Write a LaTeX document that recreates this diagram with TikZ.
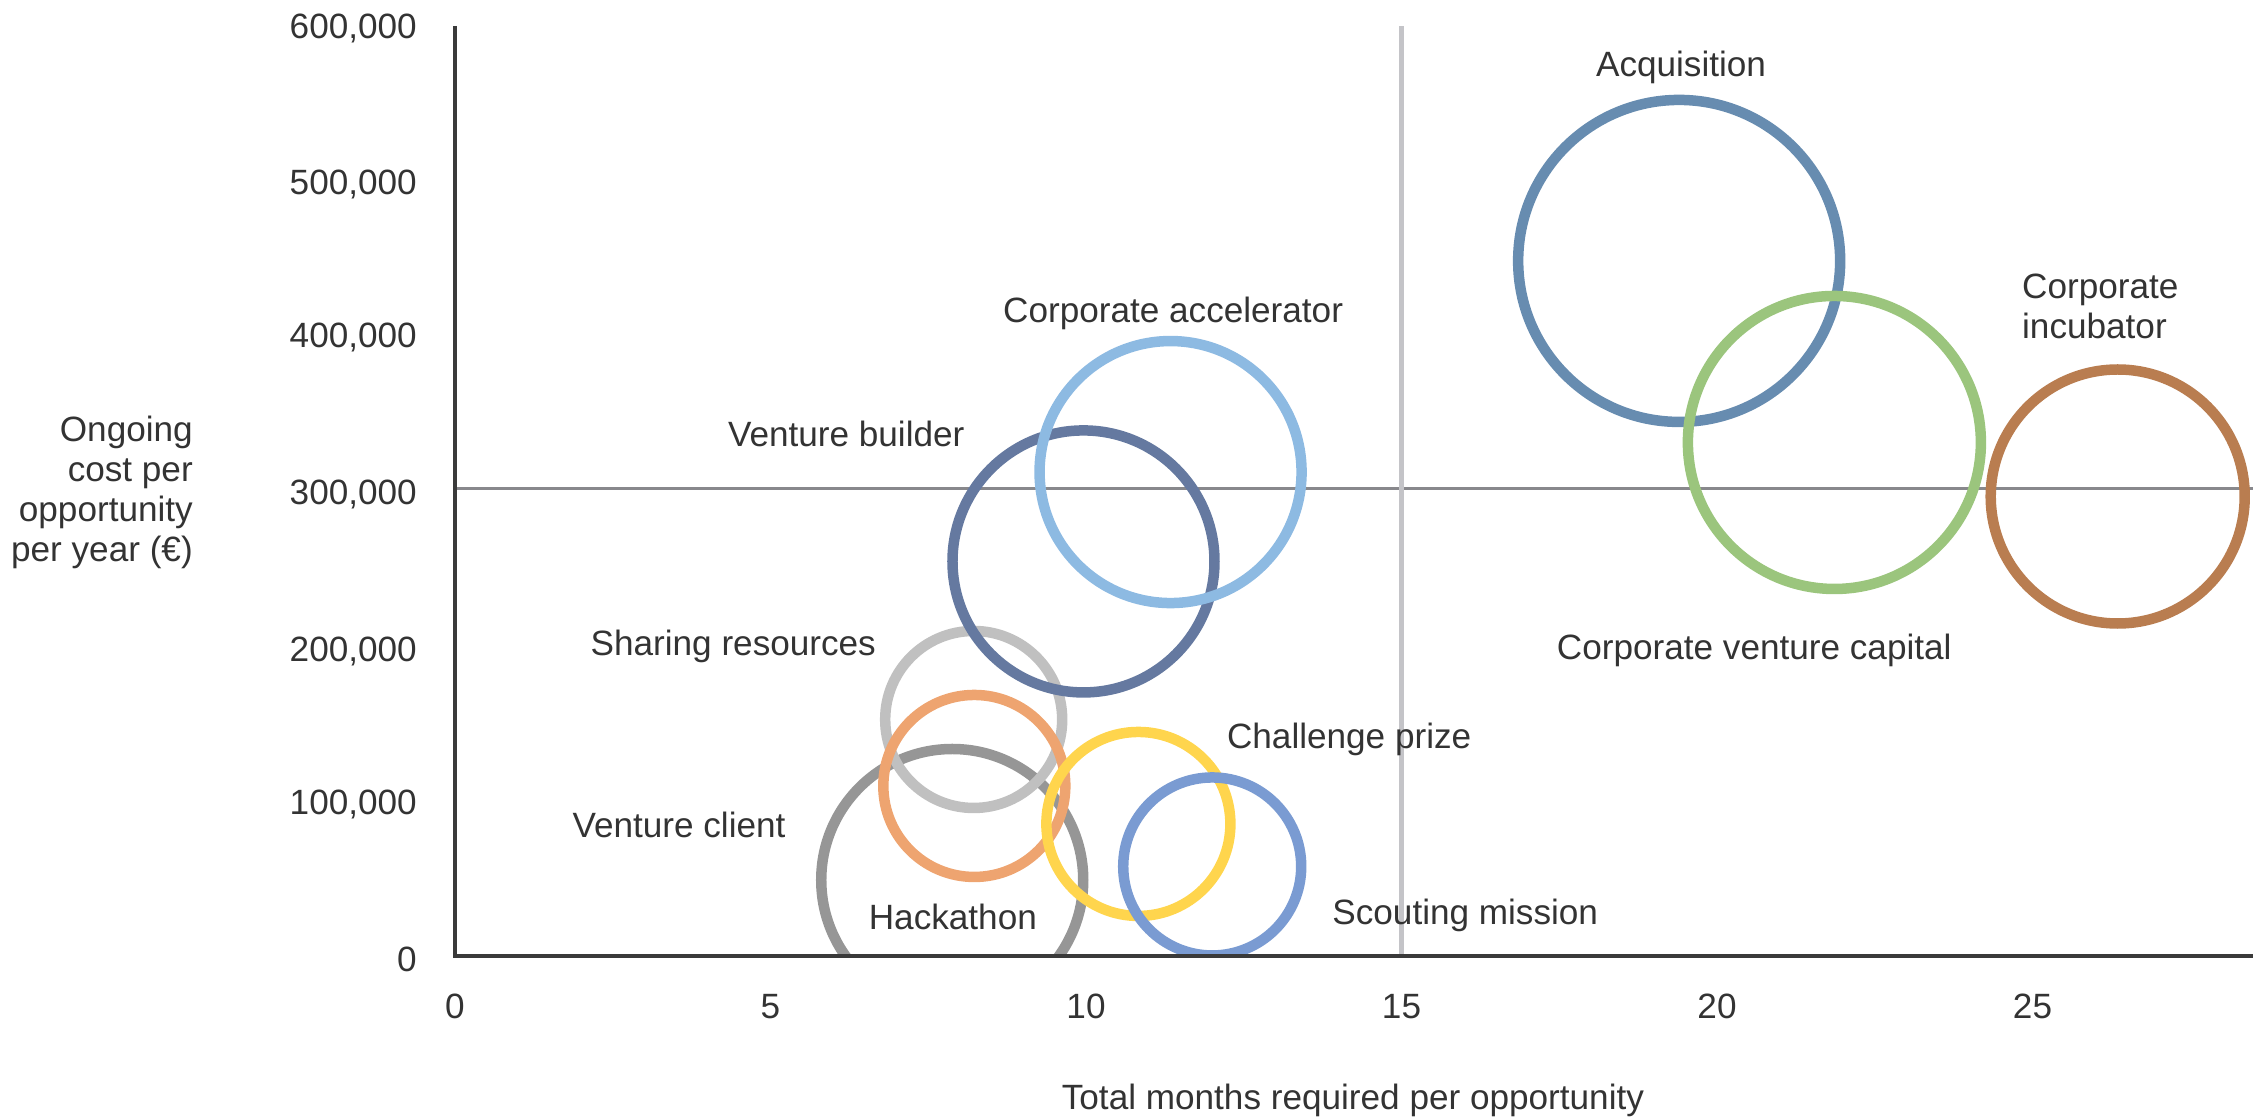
\documentclass[tikz,border=0pt]{standalone}
\usepackage{fontspec}
\setmainfont{Liberation Sans}
\usepackage{tikz}

\definecolor{txtgray}{HTML}{333333}
\definecolor{axisgray}{HTML}{3A3A3A}
\definecolor{refgray}{HTML}{88888C}
\definecolor{reflight}{HTML}{C4C4C8}
\definecolor{acqblue}{HTML}{678CB0}
\definecolor{cvcgreen}{HTML}{9BC57D}
\definecolor{incbrown}{HTML}{B97D50}
\definecolor{accblue}{HTML}{8DBAE2}
\definecolor{vbslate}{HTML}{6579A0}
\definecolor{srgray}{HTML}{C0C0C0}
\definecolor{vcorange}{HTML}{EEA470}
\definecolor{hkgray}{HTML}{969696}
\definecolor{cpyellow}{HTML}{FFD54D}
\definecolor{smblue}{HTML}{7A9BD2}

\begin{document}
\begin{tikzpicture}[x=1.262cm,y=3.114cm]
					\useasboundingbox (-7.2108,-1.0308) rectangle (28.494,6.1368);
					\tikzstyle{every node}=[font=\fontsize{20}{22.8}\selectfont, text=txtgray, inner sep=0pt];
					\tikzstyle{lbl}=[text height=0.51cm, text depth=0pt];
					\tikzstyle{bubble}=[line width=0.21cm];
					% reference lines
					\draw[line width=0.06cm, refgray] (0,3) -- (28.494,3);
					\draw[line width=0.11cm, reflight] (15,0) -- (15,5.97);
					% bubbles
					\begin{scope}
					\clip (0,0) rectangle (28.494,6.1368);
					\draw[bubble, hkgray] (7.88,0.485) circle[radius=2.62cm];
					\draw[bubble, srgray] (8.22,1.516) circle[radius=1.77cm];
					\draw[bubble, vcorange] (8.23,1.089) circle[radius=1.82cm];
					\draw[bubble, cpyellow] (10.83,0.845) circle[radius=1.84cm];
					\draw[bubble, smblue] (12.00,0.572) circle[radius=1.78cm];
					\draw[bubble, vbslate] (9.96,2.531) circle[radius=2.62cm];
					\draw[bubble, accblue] (11.34,3.105) circle[radius=2.62cm];
					\draw[bubble, acqblue] (19.40,4.461) circle[radius=3.22cm];
					\draw[bubble, cvcgreen] (21.86,3.295) circle[radius=2.93cm];
					\draw[bubble, incbrown] (26.35,2.948) circle[radius=2.54cm];
					\end{scope}
					% axes
					\draw[line width=0.08cm, axisgray] (0,5.97) -- (0,0) -- (28.494,0);
					% bubble labels
					\path (19.43,5.73) node[lbl] (acq) {Acquisition};
					\path (24.83,4.17) node[anchor=west, align=left] (inc) {Corporate\\incubator};
					\path (20.59,1.98) node[lbl] (cvc) {Corporate venture capital};
					\path (11.38,4.15) node[lbl] (acc) {Corporate accelerator};
					\path (6.20,3.35) node[lbl] (vb) {Venture builder};
					\path (4.41,2.01) node[lbl] (sr) {Sharing resources};
					\path (3.55,0.84) node[lbl] (vc) {Venture client};
					\path (7.89,0.25) node[lbl] (hk) {Hackathon};
					\path (14.17,1.41) node[lbl] (cp) {Challenge prize};
					\path (16.01,0.28) node[lbl] (sm) {Scouting mission};
					% y ticks
					\path (-0.6,5.97) node[lbl, anchor=east] (y6) {600,000};
					\path (-0.6,4.97) node[lbl, anchor=east] (y5) {500,000};
					\path (-0.6,3.99) node[lbl, anchor=east] (y4) {400,000};
					\path (-0.6,2.98) node[lbl, anchor=east] (y3) {300,000};
					\path (-0.6,1.97) node[lbl, anchor=east] (y2) {200,000};
					\path (-0.6,0.99) node[lbl, anchor=east] (y1) {100,000};
					\path (-0.6,-0.02) node[lbl, anchor=east] (y0) {0};
					% x ticks
					\path (0,-0.324) node[lbl] (x0) {0};
					\path (5,-0.324) node[lbl] (x1) {5};
					\path (10,-0.324) node[lbl] (x2) {10};
					\path (15,-0.324) node[lbl] (x3) {15};
					\path (20,-0.324) node[lbl] (x4) {20};
					\path (25,-0.324) node[lbl] (x5) {25};
					% axis titles
					\path (-4.15,3.47) node[anchor=north east, align=right] (ytitle) {Ongoing\\cost per\\opportunity\\per year (€)};
					\path (14.23,-0.909) node[lbl] (xtitle) {Total months required per opportunity};
					\end{tikzpicture}
\end{document}
